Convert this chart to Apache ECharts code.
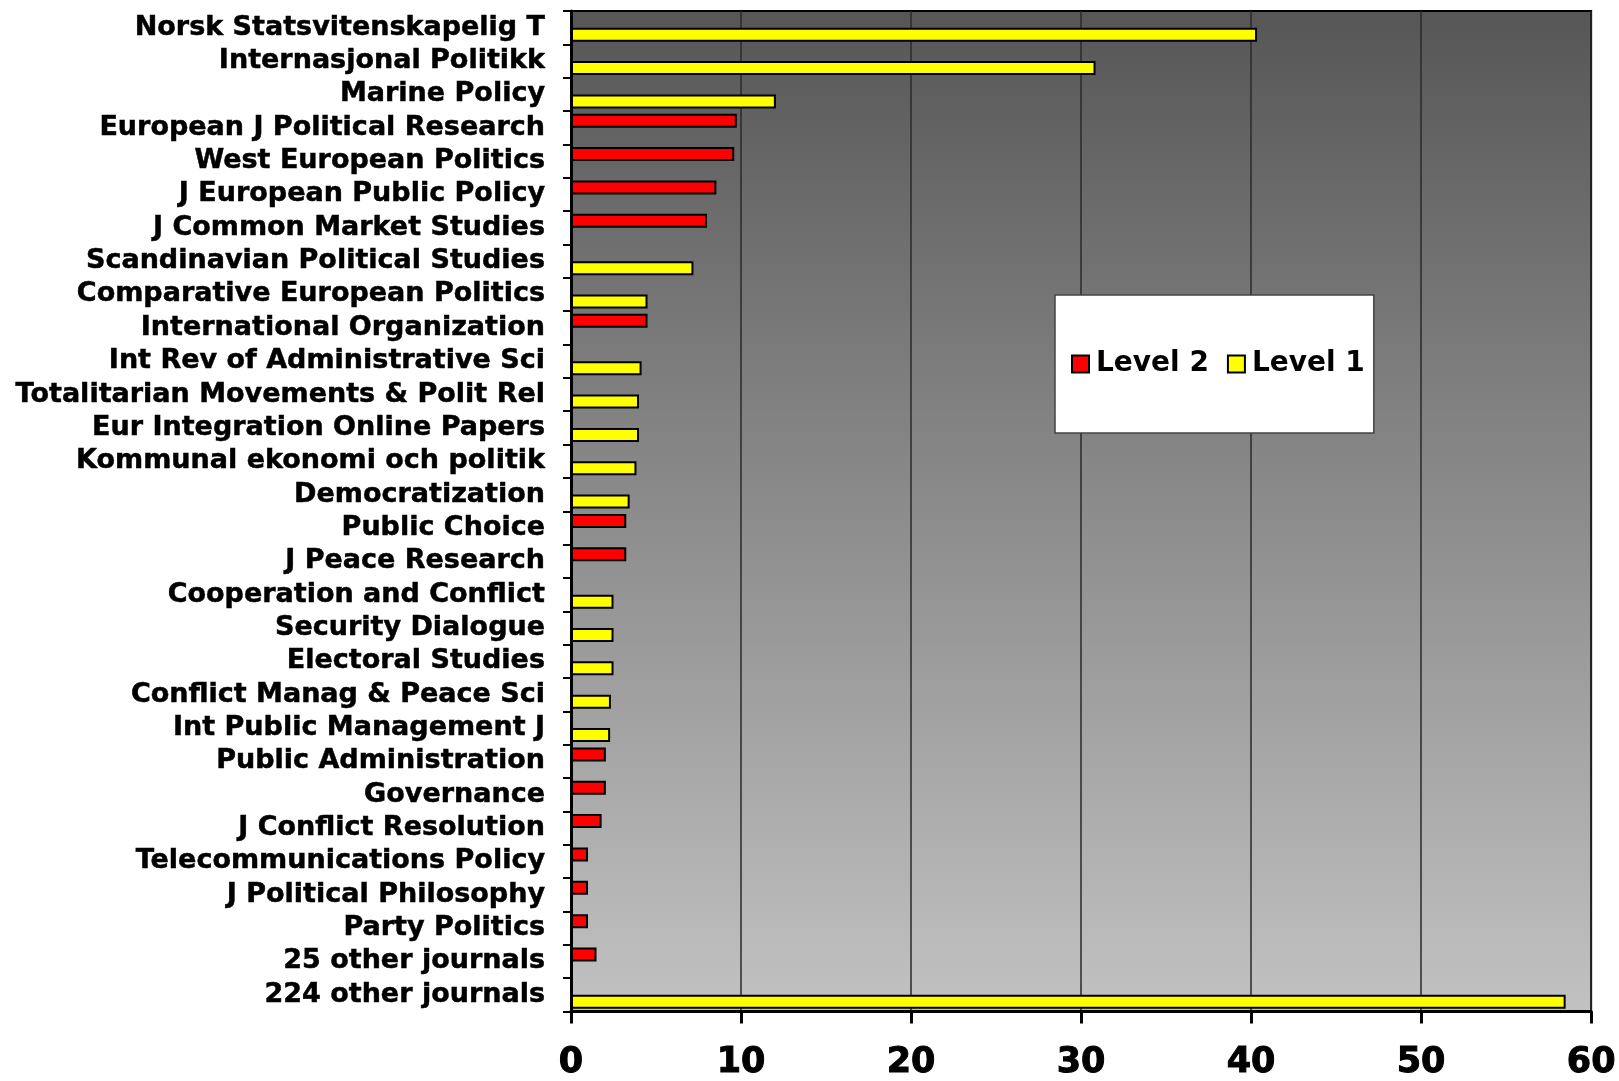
<!DOCTYPE html>
<html>
<head>
<meta charset="utf-8">
<script src="https://cdn.jsdelivr.net/npm/echarts@6/dist/echarts.min.js"></script>
<style>
html,body{margin:0;padding:0;background:#ffffff;}
#chart{width:1619px;height:1081px;}
</style>
</head>
<body>
<div id="chart"></div>
<script>
const categories = [
  "Norsk Statsvitenskapelig T",
  "Internasjonal Politikk",
  "Marine Policy",
  "European J Political Research",
  "West European Politics",
  "J European Public Policy",
  "J Common Market Studies",
  "Scandinavian Political Studies",
  "Comparative European Politics",
  "International Organization",
  "Int Rev of Administrative Sci",
  "Totalitarian Movements & Polit Rel",
  "Eur Integration Online Papers",
  "Kommunal ekonomi och politik",
  "Democratization",
  "Public Choice",
  "J Peace Research",
  "Cooperation and Conflict",
  "Security Dialogue",
  "Electoral Studies",
  "Conflict Manag & Peace Sci",
  "Int Public Management J",
  "Public Administration",
  "Governance",
  "J Conflict Resolution",
  "Telecommunications Policy",
  "J Political Philosophy",
  "Party Politics",
  "25 other journals",
  "224 other journals"
];
const level2 = [null, null, null, 9.75, 9.6, 8.55, 8.0, null, null, 4.5,
  null, null, null, null, null, 3.25, 3.25, null, null, null,
  null, null, 2.05, 2.05, 1.8, 1.0, 1.0, 1.0, 1.5, null];
const level1 = [40.35, 30.85, 12.05, null, null, null, null, 7.2, 4.5, null,
  4.15, 4.0, 4.0, 3.85, 3.45, null, null, 2.5, 2.5, 2.5,
  2.35, 2.3, null, null, null, null, null, null, null, 58.5];
const xTicks = [0, 10, 20, 30, 40, 50, 60];

const chart = echarts.init(document.getElementById('chart'), null, {renderer: 'canvas'});
const FONT = '"DejaVu Sans", Verdana, sans-serif';
chart.setOption({
  animation: false,
  backgroundColor: '#ffffff',
  grid: {
    left: 571, right: 26, top: 11, bottom: 67,
    show: true,
    borderColor: '#000000',
    borderWidth: 2,
    backgroundColor: {
      type: 'linear', x: 0, y: 0, x2: 0, y2: 1,
      colorStops: [
        {offset: 0, color: '#565656'},
        {offset: 1, color: '#c2c2c2'}
      ]
    }
  },
  legend: {
    left: 1055, top: 295,
    orient: 'horizontal',
    backgroundColor: '#ffffff',
    borderColor: '#444444',
    borderWidth: 1.5,
    padding: [55, 9, 55, 16],
    itemWidth: 17, itemHeight: 17,
    itemGap: 18,
    textStyle: {fontFamily: FONT, fontSize: 28, fontWeight: 'bold', color: '#000000', padding: [0,0,0,2]},
    data: [
      {name: 'Level 2', icon: 'rect'},
      {name: 'Level 1', icon: 'rect'}
    ]
  },
  xAxis: {
    type: 'value',
    min: xTicks[0], max: xTicks[xTicks.length - 1], interval: 10,
    axisLine: {show: true, lineStyle: {color: '#000000', width: 3}},
    axisTick: {show: true, length: 12, lineStyle: {color: '#000000', width: 3}},
    axisLabel: {fontFamily: FONT, fontSize: 35, fontWeight: 'bold', color: '#000000', margin: 34,
      textBorderColor: '#000000', textBorderWidth: 1},
    splitLine: {show: true, lineStyle: {color: '#2a2a2a', width: 1.5}}
  },
  yAxis: {
    type: 'category',
    inverse: true,
    data: categories,
    axisLine: {show: true, lineStyle: {color: '#000000', width: 3}},
    axisTick: {show: true, length: 8, lineStyle: {color: '#000000', width: 2}},
    axisLabel: {interval: 0, fontFamily: FONT, fontSize: 27, fontWeight: 'bold', color: '#000000', margin: 26,
      textBorderColor: '#000000', textBorderWidth: 0.5},
    splitLine: {show: false}
  },
  series: [
    {
      name: 'Level 2', type: 'bar', data: level2,
      barWidth: 14, barGap: '0%', barCategoryGap: '16%',
      itemStyle: {color: '#ff0000', borderColor: '#000000', borderWidth: 2}
    },
    {
      name: 'Level 1', type: 'bar', data: level1,
      barWidth: 14, barGap: '0%', barCategoryGap: '16%',
      itemStyle: {color: '#ffff00', borderColor: '#000000', borderWidth: 2}
    }
  ]
});
</script>
</body>
</html>
